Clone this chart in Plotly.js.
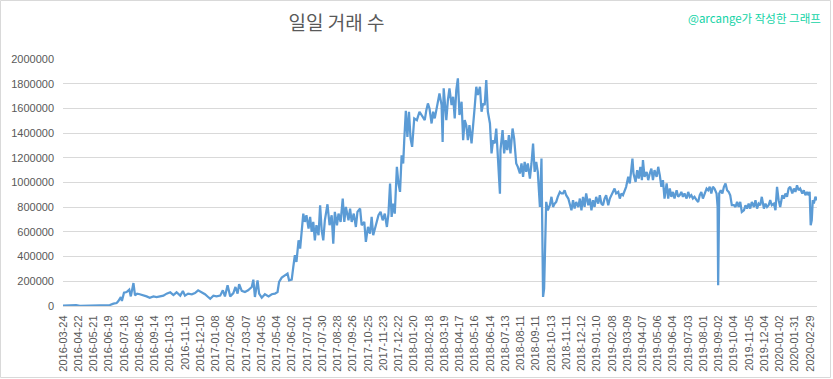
<!DOCTYPE html>
<html>
<head>
<meta charset="utf-8">
<script src="https://cdn.plot.ly/plotly-3.0.1.min.js"></script>
<style>
html,body{margin:0;padding:0;background:#fff;}
#chart{width:833px;height:379px;}
</style>
</head>
<body>
<div id="chart"></div>
<script>
// Category labels shown on the x axis (every 29th day in the data)
var tickLabels = [
 "2016-03-24","2016-04-22","2016-05-21","2016-06-19","2016-07-18","2016-08-16","2016-09-14","2016-10-13","2016-11-11","2016-12-10",
 "2017-01-08","2017-02-06","2017-03-07","2017-04-05","2017-05-04","2017-06-02","2017-07-01","2017-07-30","2017-08-28","2017-09-26",
 "2017-10-25","2017-11-23","2017-12-22","2018-01-20","2018-02-18","2018-03-19","2018-04-17","2018-05-16","2018-06-14","2018-07-13",
 "2018-08-11","2018-09-11","2018-10-13","2018-11-11","2018-12-12","2019-01-10","2019-02-08","2019-03-09","2019-04-07","2019-05-06",
 "2019-06-04","2019-07-03","2019-08-01","2019-09-02","2019-10-04","2019-11-05","2019-12-04","2020-01-02","2020-01-31","2020-02-29"
];
var tickStep = 29;

// Position of each reading in the daily series (0 = 2016-03-24)
var dayIndex = [
 0,10,18,25,32,45,58,70,77,83,89,96,102,105,110,112,116,121,126,129,134,137,141,146,153,159,165,172,178,184,191,197,204,210,216,223,228,232,238,245,251,257,264,270,276,280,286,292,299,304,308,313,318,324,328,332,335,340,346,352,359,362,365,370,373,378,384,391,397,403,408,411,416,422,427,430,435,438,441,444,448,451,454,457,460,463,467,470,473,476,479,482,486,489,492,495,498,503,507,511,514,517,521,524,528,532,535,538,543,546,549,553,557,560,565,568,573,576,580,584,587,590,595,600,604,608,612,616,619,622,625,628,631,635,638,641,644,647,649,652,655,658,661,664,668,673,678,
 682,688,691,694,697,701,704,707,710,713,716,720,722,724,727,729,732,735,739,742,745,748,751,754,758,761,764,767,770,773,777,780,783,786,789,793,796,799,802,805,808,812,815,818,821,824,827,831,832,836,839,842,845,848,851,855,858,860,862,865,869,872,875,878,881,884,888,891,894,897,900,903,905,907,910,912,913,915,917,919,922,926,929,932,935,938,941,945,948,951,954,957,961,964,967,970,973,976,980,983,986,989,992,995,999,1002,1005,1008,1011,1014,1018,1021,1024,1027,1030,1033,1037,1040,1043,1046,1049,1052,1056,1059,1062,1065,1068,1071,1075,1078,1081,1083,1085,1089,1092,1095,1098,1101,1103,1106,1110,1113,1116,1119,1122,1125,1129,1132,1135,1138,1141,1144,1148,1151,1154,1157,1160,1163,1167,1170,1173,1176,1179,1182,1186,1189,1192,1195,1198,1201,1205,1208,1211,1214,1217,1220,1224,1227,1230,1233,1236,1239,1243,1245,1246,1248,1251,1254,1257,1260,1263,1266,1269,1272,1276,1279,1282,1285,1288,1291,1295,1298,1301,1304,1307,1310,1314,1317,1320,1323,1326,1329,1333,1336,1339,1342,1345,1348,1352,1355,1358,1361,1364,1368,1371,1374,1377,1380,1383,1387,1390,1393,1396,1399,1402,1406,1409,1412,1415,1418,1420,1422,1424,1426,1428,1431,1434
];

// Daily transaction count (일일 거래 수)
var txCount = [
 3000,5000,11000,8000,2000,2000,3000,5000,8000,4000,8000,19000,24000,38000,73000,41000,108000,113000,132000,78000,186000,86000,100000,95000,89000,78000,67000,78000,73000,78000,84000,100000,111000,89000,111000,84000,122000,84000,100000,95000,105000,127000,113000,95000,73000,59000,84000,78000,84000,127000,78000,168000,78000,105000,154000,100000,176000,122000,113000,127000,154000,213000,73000,208000,100000,67000,95000,78000,95000,100000,113000,195000,230000,249000,262000,208000,213000,316000,411000,357000,532000,465000,640000,748000,681000,735000,627000,721000,600000,681000,532000,654000,573000,816000,613000,532000,694000,824000,654000,735000,505000,762000,654000,748000,681000,870000,681000,802000,694000,789000,681000,748000,640000,762000,789000,654000,681000,519000,640000,586000,721000,573000,654000,735000,762000,694000,748000,640000,748000,992000,721000,829000,748000,1127000,992000,924000,1221000,1154000,1343000,1581000,1370000,1573000,1356000,1289000,1519000,1505000,1573000,
 1546000,1505000,1586000,1640000,1600000,1478000,1573000,1519000,1586000,1654000,1721000,1627000,1329000,1762000,1613000,1505000,1667000,1762000,1627000,1694000,1519000,1748000,1843000,1546000,1654000,1343000,1505000,1464000,1343000,1464000,1316000,1505000,1613000,1775000,1708000,1775000,1573000,1640000,1627000,1829000,1573000,1478000,1235000,1343000,1316000,1437000,1194000,910000,1262000,1424000,1235000,1343000,1262000,1383000,1235000,1437000,1356000,1235000,1154000,1127000,1073000,1154000,1046000,1167000,1086000,1154000,1032000,1154000,1316000,1086000,1167000,1086000,965000,802000,1194000,532000,73000,140000,640000,843000,775000,816000,884000,802000,829000,843000,884000,924000,911000,911000,937000,897000,870000,829000,775000,857000,789000,843000,802000,870000,775000,884000,802000,911000,816000,870000,775000,857000,802000,884000,829000,897000,829000,816000,870000,897000,816000,870000,897000,911000,951000,911000,924000,870000,911000,897000,937000,965000,1046000,992000,1113000,1194000,1073000,1005000,1100000,1032000,1127000,1019000,1181000,1046000,1086000,1019000,1073000,1113000,1019000,1100000,1046000,1127000,1059000,965000,1019000,870000,992000,870000,951000,884000,924000,870000,937000,884000,897000,924000,884000,911000,870000,924000,884000,897000,870000,884000,857000,843000,897000,924000,870000,911000,951000,937000,965000,911000,965000,951000,911000,802000,168000,911000,937000,911000,965000,992000,937000,924000,897000,816000,816000,802000,843000,802000,843000,762000,775000,816000,789000,829000,789000,843000,802000,857000,789000,829000,816000,884000,789000,829000,802000,816000,857000,816000,829000,775000,965000,857000,802000,897000,870000,911000,884000,951000,965000,911000,951000,924000,978000,937000,951000,911000,937000,897000,924000,897000,924000,654000,694000,857000,829000,884000,857000
];

var yTickVals = [0,200000,400000,600000,800000,1000000,1200000,1400000,1600000,1800000,2000000];
var titleText = "일일 거래 수";
var creditText = "@arcange가 작성한 그래프";

var W = 833, H = 379;
var M = {l: 63, r: 16, t: 59, b: 73};
var pw = W - M.l - M.r, ph = H - M.t - M.b;

var tickVals = tickLabels.map(function(_, i){ return i * tickStep; });

var trace = {
  type: 'scatter', mode: 'lines',
  x: dayIndex, y: txCount,
  line: {color: '#5b9bd5', width: 2.25},
  hoverinfo: 'skip'
};

var layout = {
  width: W, height: H,
  margin: M,
  paper_bgcolor: '#ffffff', plot_bgcolor: '#ffffff',
  showlegend: false,
  font: {family: 'Liberation Sans, Arial, sans-serif', color: '#595959', size: 11},
  title: {
    text: titleText,
    font: {family: 'Noto Sans CJK KR, sans-serif', size: 19, color: '#595959'},
    xref: 'paper', x: (336.5 - M.l) / pw, xanchor: 'center',
    yref: 'container', y: 1 - 23 / H, yanchor: 'middle'
  },
  xaxis: {
    range: [0, 1434],
    tickmode: 'array', tickvals: tickVals, ticktext: tickLabels,
    tickangle: -90, ticks: '', showgrid: false, zeroline: false,
    showline: true, linecolor: '#d9d9d9', linewidth: 1,
    tickfont: {size: 11, color: '#595959', family: 'Liberation Sans, Arial, sans-serif'},
    ticklabelstandoff: 4
  },
  yaxis: {
    range: [0, 2000000],
    tickmode: 'array', tickvals: yTickVals,
    ticktext: yTickVals.map(function(v){ return String(v); }),
    showgrid: true, gridcolor: '#d9d9d9', gridwidth: 1,
    zeroline: false, showline: false, ticks: '',
    tickfont: {size: 11, color: '#595959', family: 'Liberation Sans, Arial, sans-serif'},
    ticklabelstandoff: 8
  },
  annotations: [{
    text: creditText, showarrow: false,
    xref: 'paper', yref: 'paper',
    x: (823 - M.l) / pw, xanchor: 'right',
    y: (H - M.b - 18) / ph, yanchor: 'middle',
    font: {family: 'Noto Sans CJK KR, sans-serif', size: 11.5, color: '#12d3a6'}
  }],
  shapes: [{
    type: 'rect', xref: 'paper', yref: 'paper', layer: 'above',
    x0: (0.5 - M.l) / pw, x1: (830.5 - M.l) / pw,
    y0: (H - M.b - 377.5) / ph, y1: (H - M.b - 0.5) / ph,
    line: {color: '#d9d9d9', width: 1}, fillcolor: 'rgba(0,0,0,0)'
  }]
};

Plotly.newPlot('chart', [trace], layout, {displayModeBar: false, staticPlot: true});
</script>
</body>
</html>
